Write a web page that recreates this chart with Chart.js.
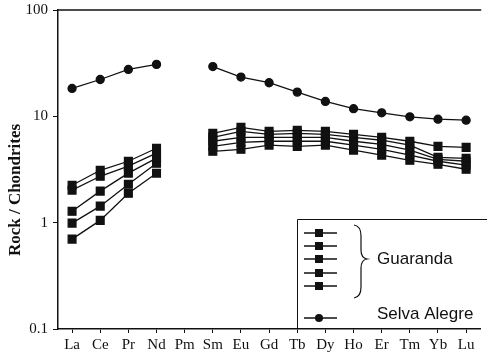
<!DOCTYPE html>
<html>
<head>
    <title>REE Chondrite Normalized</title>
    <script src="https://cdn.jsdelivr.net/npm/chart.js"></script>
    <style>
        body { margin: 0; background: #fff; }
    </style>
</head>
<body>
    <canvas id="reeChart" width="487" height="355"></canvas>
    <script>
        const elements = ['La', 'Ce', 'Pr', 'Nd', 'Pm', 'Sm', 'Eu', 'Gd', 'Tb', 'Dy', 'Ho', 'Er', 'Tm', 'Yb', 'Lu'];
        const yTicks = [0.1, 1, 10, 100];

        const selvaAlegre = [18.3, 22.2, 27.6, 30.8, null, 29.4, 23.4, 20.7, 16.9, 13.8, 11.8, 10.8, 9.9, 9.4, 9.2];

        const guaranda1 = [2.25, 3.11, 3.78, 5.01, null, 6.92, 7.88, 7.23, 7.39, 7.23, 6.78, 6.35, 5.83, 5.22, 5.11];
        const guaranda2 = [2.02, 2.73, 3.40, 4.50, null, 6.35, 7.23, 6.78, 6.92, 6.78, 6.35, 5.96, 5.35, 4.12, 4.03];
        const guaranda3 = [1.28, 1.98, 2.92, 4.04, null, 5.83, 6.35, 6.35, 6.35, 6.35, 5.83, 5.46, 4.80, 3.94, 3.78];
        const guaranda4 = [0.99, 1.43, 2.30, 3.62, null, 5.22, 5.70, 5.83, 5.83, 5.83, 5.35, 4.90, 4.31, 3.78, 3.47];
        const guaranda5 = [0.70, 1.05, 1.89, 2.92, null, 4.69, 4.90, 5.35, 5.22, 5.35, 4.80, 4.31, 3.86, 3.54, 3.18];

        const guarandaSets = [guaranda1, guaranda2, guaranda3, guaranda4, guaranda5];

        const serif = '"Liberation Serif", "Times New Roman", serif';
        const sans = '"Liberation Sans", Arial, sans-serif';

        const datasets = guarandaSets.map((vals, i) => ({
            label: 'Guaranda ' + (i + 1),
            data: vals,
            borderColor: '#111',
            backgroundColor: '#111',
            borderWidth: 1.3,
            pointStyle: 'rect',
            pointRadius: 5.5,
            pointHoverRadius: 5.5,
            spanGaps: false,
            tension: 0
        }));
        datasets.push({
            label: 'Selva Alegre',
            data: selvaAlegre,
            borderColor: '#111',
            backgroundColor: '#111',
            borderWidth: 1.3,
            pointStyle: 'circle',
            pointRadius: 4,
            pointHoverRadius: 4,
            spanGaps: false,
            tension: 0
        });

        // frame top line, y title and the boxed legend
        const extras = {
            id: 'extras',
            afterDraw(chart) {
                const c = chart.ctx;
                const a = chart.chartArea;
                c.save();
                c.strokeStyle = '#111';
                c.lineWidth = 1.3;
                c.beginPath();
                c.moveTo(a.left, a.top);
                c.lineTo(a.right + 1, a.top);
                c.stroke();

                // y title
                c.fillStyle = '#111';
                c.font = 'bold 17px ' + serif;
                c.textAlign = 'center';
                c.textBaseline = 'middle';
                c.translate(16, 190);
                c.rotate(-Math.PI / 2);
                c.fillText('Rock / Chondrites', 0, 0);
                c.restore();

                // legend box
                c.save();
                c.strokeStyle = '#111';
                c.lineWidth = 1;
                c.beginPath();
                c.moveTo(297.5, a.bottom);
                c.lineTo(297.5, 219.5);
                c.lineTo(487, 219.5);
                c.stroke();

                c.lineWidth = 1.3;
                c.fillStyle = '#111';
                const rowY = [233, 246, 259, 273, 286];
                rowY.forEach(y => {
                    c.beginPath();
                    c.moveTo(304, y);
                    c.lineTo(337, y);
                    c.stroke();
                    c.fillRect(315, y - 4, 8, 8);
                });
                c.beginPath();
                c.moveTo(304, 318);
                c.lineTo(337, 318);
                c.stroke();
                c.beginPath();
                c.arc(319, 318, 4, 0, Math.PI * 2);
                c.fill();

                // brace
                c.lineWidth = 1.2;
                c.beginPath();
                c.moveTo(354, 225);
                c.quadraticCurveTo(361, 226, 361, 236);
                c.lineTo(361, 250);
                c.quadraticCurveTo(361, 258, 367, 259);
                c.quadraticCurveTo(361, 260, 361, 268);
                c.lineTo(361, 287);
                c.quadraticCurveTo(361, 297, 354, 298);
                c.stroke();

                c.font = '17px ' + sans;
                c.textAlign = 'left';
                c.textBaseline = 'middle';
                c.fillText('Guaranda', 377, 259);
                c.fillText('Selva Alegre', 377, 314);
                c.restore();
            }
        };

        const ctx = document.getElementById('reeChart').getContext('2d');
        const myChart = new Chart(ctx, {
            type: 'line',
            data: { labels: elements, datasets: datasets },
            options: {
                responsive: false,
                animation: false,
                layout: { padding: { top: 10, right: 0, left: 0, bottom: 0 } },
                plugins: {
                    legend: { display: false },
                    tooltip: { enabled: false }
                },
                scales: {
                    x: {
                        offset: true,
                        border: { color: '#111', width: 1.5 },
                        grid: { drawOnChartArea: false, tickLength: 4, color: '#111' },
                        ticks: {
                            color: '#111',
                            padding: 3,
                            maxRotation: 0,
                            autoSkip: false,
                            font: { family: serif, size: 15 }
                        },
                        afterFit(axis) {
                            axis.height = 26;
                            axis.paddingLeft = 0;
                            axis.paddingRight = 0;
                        }
                    },
                    y: {
                        type: 'logarithmic',
                        min: 0.1,
                        max: 100,
                        border: { color: '#111', width: 1.5 },
                        grid: { drawOnChartArea: false, tickLength: 5, color: '#111' },
                        afterBuildTicks(axis) {
                            axis.ticks = yTicks.map(v => ({ value: v }));
                        },
                        ticks: {
                            color: '#111',
                            padding: 5,
                            font: { family: serif, size: 15 },
                            callback: v => String(v)
                        },
                        afterFit(axis) {
                            axis.width = 58;
                            axis.paddingTop = 0;
                            axis.paddingBottom = 0;
                        }
                    }
                }
            },
            plugins: [extras]
        });
    </script>
</body>
</html>
